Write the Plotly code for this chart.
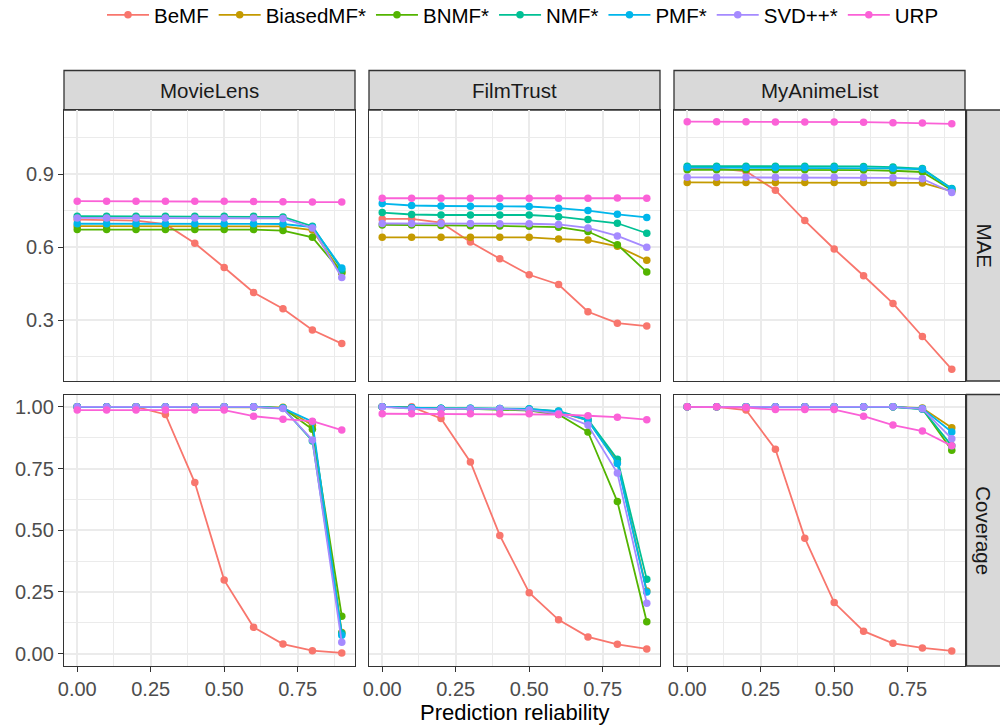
import plotly.graph_objects as go

# ---------------- data ----------------
reliability = [0.0, 0.1, 0.2, 0.3, 0.4, 0.5, 0.6, 0.7, 0.8, 0.9]
methods = ["BeMF", "BiasedMF*", "BNMF*", "NMF*", "PMF*", "SVD++*", "URP"]
datasets = ["MovieLens", "FilmTrust", "MyAnimeList"]
metrics = ["MAE", "Coverage"]

mae_movielens = {
    "BeMF":      [0.714, 0.712, 0.710, 0.695, 0.617, 0.517, 0.414, 0.347, 0.260, 0.204],
    "BiasedMF*": [0.687, 0.687, 0.687, 0.687, 0.687, 0.687, 0.687, 0.686, 0.671, 0.494],
    "BNMF*":     [0.673, 0.673, 0.673, 0.673, 0.673, 0.673, 0.673, 0.669, 0.641, 0.497],
    "NMF*":      [0.728, 0.728, 0.728, 0.728, 0.728, 0.728, 0.728, 0.725, 0.687, 0.508],
    "PMF*":      [0.697, 0.697, 0.697, 0.697, 0.697, 0.697, 0.697, 0.696, 0.683, 0.515],
    "SVD++*":    [0.721, 0.721, 0.721, 0.721, 0.721, 0.721, 0.721, 0.719, 0.680, 0.476],
    "URP":       [0.790, 0.790, 0.790, 0.790, 0.790, 0.790, 0.789, 0.787, 0.786, 0.786],
}
mae_filmtrust = {
    "BeMF":      [0.717, 0.717, 0.702, 0.622, 0.553, 0.487, 0.447, 0.335, 0.288, 0.276],
    "BiasedMF*": [0.641, 0.641, 0.641, 0.641, 0.641, 0.641, 0.634, 0.630, 0.604, 0.547],
    "BNMF*":     [0.692, 0.692, 0.690, 0.689, 0.688, 0.687, 0.683, 0.665, 0.611, 0.498],
    "NMF*":      [0.743, 0.735, 0.733, 0.733, 0.733, 0.733, 0.726, 0.714, 0.699, 0.658],
    "PMF*":      [0.780, 0.772, 0.770, 0.769, 0.768, 0.768, 0.761, 0.751, 0.736, 0.723],
    "SVD++*":    [0.698, 0.698, 0.698, 0.698, 0.697, 0.697, 0.694, 0.680, 0.647, 0.600],
    "URP":       [0.802, 0.802, 0.802, 0.802, 0.802, 0.802, 0.802, 0.802, 0.803, 0.802],
}
mae_myanimelist = {
    "BeMF":      [0.925, 0.925, 0.913, 0.835, 0.710, 0.593, 0.483, 0.369, 0.233, 0.098],
    "BiasedMF*": [0.867, 0.867, 0.867, 0.867, 0.867, 0.867, 0.867, 0.866, 0.865, 0.831],
    "BNMF*":     [0.919, 0.919, 0.919, 0.919, 0.919, 0.919, 0.918, 0.915, 0.910, 0.836],
    "NMF*":      [0.934, 0.934, 0.934, 0.934, 0.934, 0.934, 0.933, 0.930, 0.924, 0.842],
    "PMF*":      [0.928, 0.928, 0.928, 0.928, 0.928, 0.928, 0.927, 0.925, 0.921, 0.840],
    "SVD++*":    [0.888, 0.888, 0.888, 0.888, 0.888, 0.888, 0.887, 0.886, 0.882, 0.826],
    "URP":       [1.117, 1.117, 1.117, 1.116, 1.116, 1.116, 1.115, 1.113, 1.111, 1.108],
}
cov_movielens = {
    "BeMF":      [1.000, 1.000, 1.000, 0.969, 0.693, 0.298, 0.107, 0.039, 0.012, 0.003],
    "BiasedMF*": [1.000, 1.000, 1.000, 1.000, 1.000, 1.000, 1.000, 0.998, 0.925, 0.086],
    "BNMF*":     [1.000, 1.000, 1.000, 1.000, 1.000, 1.000, 1.000, 0.995, 0.909, 0.152],
    "NMF*":      [1.000, 1.000, 1.000, 1.000, 1.000, 1.000, 1.000, 0.995, 0.862, 0.083],
    "PMF*":      [1.000, 1.000, 1.000, 1.000, 1.000, 1.000, 1.000, 0.995, 0.940, 0.075],
    "SVD++*":    [1.000, 1.000, 1.000, 1.000, 1.000, 1.000, 1.000, 0.993, 0.866, 0.046],
    "URP":       [0.987, 0.987, 0.987, 0.987, 0.987, 0.987, 0.962, 0.950, 0.942, 0.906],
}
cov_filmtrust = {
    "BeMF":      [1.000, 1.000, 0.953, 0.777, 0.479, 0.247, 0.137, 0.068, 0.038, 0.019],
    "BiasedMF*": [1.000, 0.995, 0.993, 0.993, 0.992, 0.990, 0.980, 0.945, 0.777, 0.254],
    "BNMF*":     [1.000, 0.995, 0.993, 0.992, 0.990, 0.985, 0.969, 0.898, 0.616, 0.129],
    "NMF*":      [1.000, 0.996, 0.994, 0.994, 0.993, 0.992, 0.983, 0.949, 0.788, 0.301],
    "PMF*":      [1.000, 0.996, 0.994, 0.994, 0.993, 0.991, 0.982, 0.945, 0.770, 0.250],
    "SVD++*":    [1.000, 0.993, 0.992, 0.992, 0.992, 0.987, 0.973, 0.926, 0.732, 0.204],
    "URP":       [0.972, 0.972, 0.972, 0.972, 0.972, 0.972, 0.969, 0.964, 0.958, 0.948],
}
cov_myanimelist = {
    "BeMF":      [1.000, 1.000, 0.987, 0.828, 0.468, 0.207, 0.091, 0.042, 0.023, 0.011],
    "BiasedMF*": [1.000, 1.000, 1.000, 1.000, 1.000, 1.000, 1.000, 1.000, 0.995, 0.915],
    "BNMF*":     [1.000, 1.000, 1.000, 1.000, 1.000, 1.000, 1.000, 1.000, 0.992, 0.824],
    "NMF*":      [1.000, 1.000, 1.000, 1.000, 1.000, 1.000, 1.000, 1.000, 0.990, 0.842],
    "PMF*":      [1.000, 1.000, 1.000, 1.000, 1.000, 1.000, 1.000, 1.000, 0.993, 0.898],
    "SVD++*":    [1.000, 1.000, 1.000, 1.000, 1.000, 1.000, 1.000, 1.000, 0.992, 0.871],
    "URP":       [1.000, 1.000, 0.997, 0.989, 0.989, 0.989, 0.962, 0.926, 0.902, 0.842],
}

x_ticks = [0.0, 0.25, 0.5, 0.75]
x_ticklabels = ["0.00", "0.25", "0.50", "0.75"]
mae_ticks = [0.3, 0.6, 0.9]
mae_ticklabels = ["0.3", "0.6", "0.9"]
cov_ticks = [0.0, 0.25, 0.5, 0.75, 1.0]
cov_ticklabels = ["0.00", "0.25", "0.50", "0.75", "1.00"]
x_title = "Prediction reliability"

# ---------------- style ----------------
colors = {
    "BeMF": "#F8766D", "BiasedMF*": "#C49A00", "BNMF*": "#53B400", "NMF*": "#00C094",
    "PMF*": "#00B6EB", "SVD++*": "#A58AFF", "URP": "#FB61D7",
}
W, H = 1000, 727
FONT = "Liberation Sans, Arial, sans-serif"
col_px = [(64, 355), (369, 660), (674, 965)]
row_px = [(110, 381), (394.5, 666)]

panels = [
    [mae_movielens, mae_filmtrust, mae_myanimelist],
    [cov_movielens, cov_filmtrust, cov_myanimelist],
]

fig = go.Figure()
layout = dict()
idx = 0
for r in range(2):
    for c in range(3):
        idx += 1
        sfx = "" if idx == 1 else str(idx)
        data = panels[r][c]
        for m in methods:
            fig.add_trace(go.Scatter(
                x=reliability, y=data[m], mode="lines+markers", name=m,
                legendgroup=m, showlegend=(idx == 1),
                line=dict(color=colors[m], width=1.8),
                marker=dict(color=colors[m], size=7.5),
                xaxis="x" + sfx, yaxis="y" + sfx,
            ))
        x0, x1 = col_px[c]
        y0, y1 = row_px[r]
        xa = dict(
            domain=[x0 / W, x1 / W], range=[-0.045, 0.945], anchor="y" + sfx,
            automargin=False,
            tickvals=x_ticks, ticktext=x_ticklabels,
            showgrid=True, gridcolor="#EBEBEB", gridwidth=1.6,
            minor=dict(tickvals=[0.125, 0.375, 0.625, 0.875], showgrid=True,
                       gridcolor="#EBEBEB", gridwidth=0.8, ticks=""),
            zeroline=False, showline=True, mirror=True, linecolor="#333333", linewidth=1.3,
            tickfont=dict(family=FONT, size=20, color="#4D4D4D"),
            ticks="outside" if r == 1 else "", ticklen=5, tickwidth=1.3, tickcolor="#333333",
            showticklabels=(r == 1),
        )
        if r == 0:
            yr = [0.05, 1.165]
            yt, ytl = mae_ticks, mae_ticklabels
            ymin = [0.15, 0.45, 0.75, 1.05]
        else:
            yr = [-0.05, 1.05]
            yt, ytl = cov_ticks, cov_ticklabels
            ymin = [0.125, 0.375, 0.625, 0.875]
        ya = dict(
            domain=[1 - y1 / H, 1 - y0 / H], range=yr, anchor="x" + sfx,
            automargin=False,
            tickvals=yt, ticktext=ytl,
            showgrid=True, gridcolor="#EBEBEB", gridwidth=1.6,
            minor=dict(tickvals=ymin, showgrid=True, gridcolor="#EBEBEB", gridwidth=0.8, ticks=""),
            zeroline=False, showline=True, mirror=True, linecolor="#333333", linewidth=1.3,
            tickfont=dict(family=FONT, size=20, color="#4D4D4D"),
            ticks="outside" if c == 0 else "", ticklen=5, tickwidth=1.3, tickcolor="#333333",
            showticklabels=(c == 0),
        )
        layout["xaxis" + sfx] = xa
        layout["yaxis" + sfx] = ya

shapes = []
annotations = []
# top strips
for c, name in enumerate(datasets):
    x0, x1 = col_px[c]
    shapes.append(dict(type="rect", xref="paper", yref="paper",
                       x0=x0 / W, x1=x1 / W, y0=1 - 110 / H, y1=1 - 70.5 / H,
                       fillcolor="#D9D9D9", line=dict(color="#333333", width=1.3), layer="below"))
    annotations.append(dict(text=name, xref="paper", yref="paper", x=(x0 + x1) / 2 / W,
                            y=1 - 90 / H, showarrow=False, xanchor="center", yanchor="middle",
                            font=dict(family=FONT, size=20.5, color="#1A1A1A")))
# right strips
for r, name in enumerate(metrics):
    y0, y1 = row_px[r]
    shapes.append(dict(type="rect", xref="paper", yref="paper",
                       x0=966.5 / W, x1=1.01, y0=1 - y1 / H, y1=1 - y0 / H,
                       fillcolor="#D9D9D9", line=dict(color="#333333", width=1.3), layer="below"))
    annotations.append(dict(text=name, xref="paper", yref="paper", x=984 / W,
                            y=1 - (y0 + y1) / 2 / H, showarrow=False, textangle=90,
                            xanchor="center", yanchor="middle",
                            font=dict(family=FONT, size=20.5, color="#1A1A1A")))
annotations.append(dict(text=x_title, xref="paper", yref="paper", x=514.5 / W, y=1 - 712 / H,
                        showarrow=False, xanchor="center", yanchor="middle",
                        font=dict(family=FONT, size=22, color="#000000")))

fig.update_layout(
    width=W, height=H, margin=dict(l=0, r=0, t=0, b=0, autoexpand=False),
    paper_bgcolor="white", plot_bgcolor="white",
    shapes=shapes, annotations=annotations,
    legend=dict(orientation="h", x=0.523, xanchor="center", y=1 - 15 / H, yanchor="middle",
                font=dict(family=FONT, size=20.5, color="#000000"),
                itemwidth=42, bgcolor="rgba(0,0,0,0)"),
    **layout,
)
fig.write_html(
    "out.html",
    config={"displayModeBar": False},
    post_script="document.body.style.margin='0';document.body.style.overflow='hidden';",
)
